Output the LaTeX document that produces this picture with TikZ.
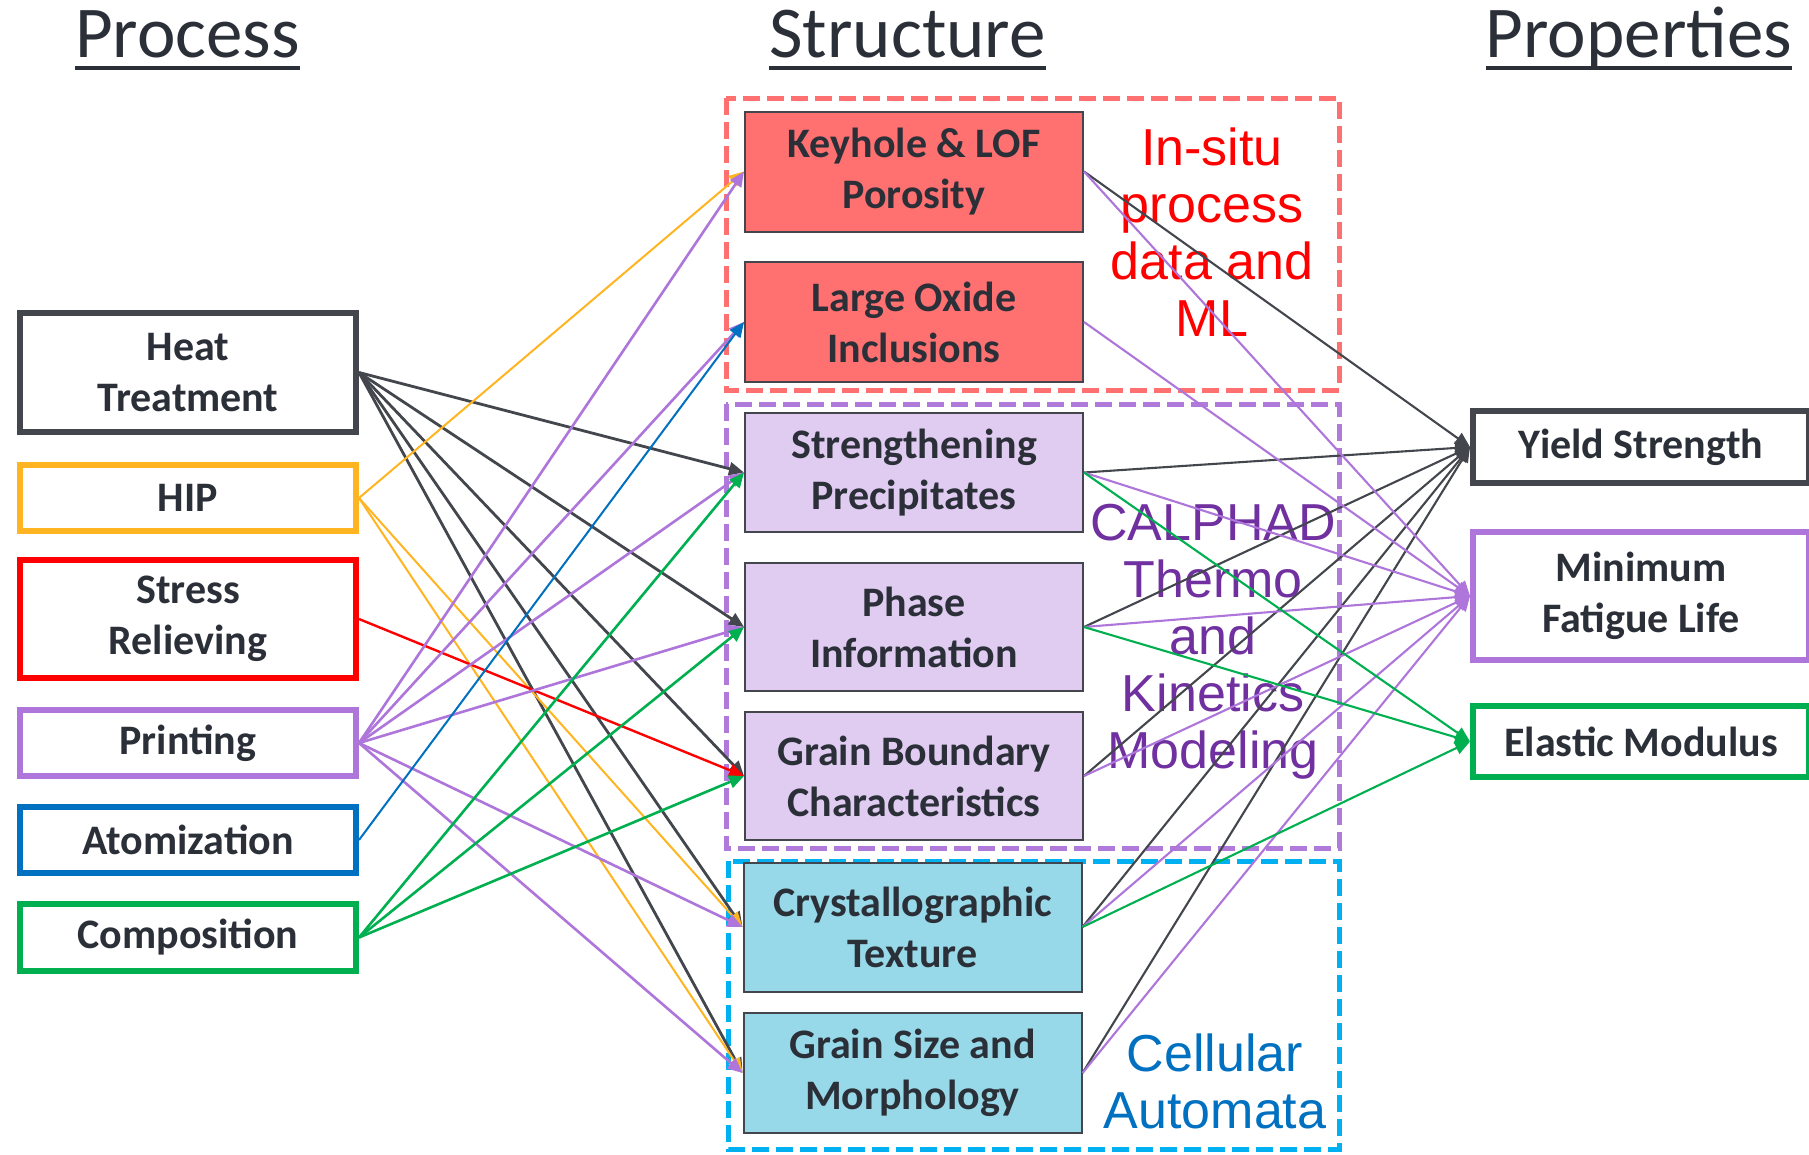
\documentclass[tikz,border=0pt]{standalone}
\usepackage{fontspec}
\setmainfont{Carlito}
\newfontfamily\labfont{Liberation Sans}
\usetikzlibrary{arrows.meta}
\definecolor{dgray}{RGB}{67,71,77}
\definecolor{txt}{RGB}{43,47,56}
\definecolor{hipc}{RGB}{255,181,33}
\definecolor{redc}{RGB}{255,0,0}
\definecolor{purc}{RGB}{174,118,218}
\definecolor{bluc}{RGB}{0,112,192}
\definecolor{grnc}{RGB}{0,176,80}
\definecolor{salmon}{RGB}{255,113,113}
\definecolor{lav}{RGB}{224,203,241}
\definecolor{cyanf}{RGB}{151,217,232}
\definecolor{dashred}{RGB}{255,112,112}
\definecolor{dashpur}{RGB}{176,122,218}
\definecolor{dashcy}{RGB}{0,176,240}
\definecolor{labpur}{RGB}{112,48,160}
\tikzset{
  box/.style={draw, align=center, font=\bfseries\fontsize{42}{51}\selectfont, text=txt, inner sep=0pt},
  lbox/.style={box, line width=6pt, fill=white, minimum width=336pt},
  mbox/.style={box, draw=dgray, line width=2pt, minimum width=338pt},
  rbox/.style={box, line width=6pt, fill=white, minimum width=336pt},
  lk/.style={line width=2.8pt, -{Triangle[length=15pt,width=13pt]}},
  rk/.style={line width=2.1pt, -{Triangle[length=15pt,width=13pt]}},
  ttl/.style={font=\fontsize{73}{80}\selectfont, text=txt, inner sep=0pt, anchor=base},
  lab/.style={font=\labfont\fontsize{52}{57}\selectfont, align=center, inner sep=0pt},
  grp/.style={line width=5pt, dash pattern=on 17pt off 7pt}
}
\begin{document}
\begin{tikzpicture}[x=1pt,y=-1pt]
\useasboundingbox[fill=white] (0,0) rectangle (1809,1154);
% titles
\node[ttl] (tproc) at (187.5,57) {Process};
\node[ttl] (tstr) at (907.5,57) {Structure};
\node[ttl] (tprop) at (1639,57) {Properties};
\foreach \t in {tproc,tstr,tprop}
  \draw[line width=4.5pt, txt] ([yshift=-11pt]\t.base west) -- ([yshift=-11pt]\t.base east);
% group frames
\draw[grp, dashred] (726,98) rectangle (1339,390);
\draw[grp, dashpur] (726,404) rectangle (1339,848);
\draw[grp, dashcy] (728,861) rectangle (1339,1149);
% group labels
\node[lab, text=redc] (lml) at (1212,232) {In-situ\\process\\data and\\ML};
\node[lab, text=labpur] (lcal) at (1213,641.5) {CALPHAD\\Thermo\\and\\Kinetics\\Modeling};
\node[lab, text=bluc] (lca) at (1215,1081.5) {Cellular\\Automata};
% process boxes
\node[lbox, draw=dgray, minimum height=119pt] (heat) at (188,372.5) {Heat\\Treatment};
\node[lbox, draw=hipc, minimum height=66pt] (hip) at (188,498) {HIP};
\node[lbox, draw=redc, minimum height=118pt] (stress) at (188,619) {Stress\\Relieving};
\node[lbox, draw=purc, minimum height=66pt] (print) at (188,743) {Printing};
\node[lbox, draw=bluc, minimum height=66pt] (atom) at (188,840) {Atomization};
\node[lbox, draw=grnc, minimum height=67pt] (comp) at (188,937.5) {Composition};
% structure boxes
\node[mbox, fill=salmon, minimum height=120pt] (key) at (914,171.5) {Keyhole \& LOF\\Porosity};
\node[mbox, fill=salmon, minimum height=120pt] (oxide) at (914,322) {Large Oxide\\Inclusions};
\node[mbox, fill=lav, minimum height=119pt] (streng) at (914,472.5) {Strengthening\\Precipitates};
\node[mbox, fill=lav, minimum height=128pt] (phase) at (914,627) {Phase\\Information};
\node[mbox, fill=lav, minimum height=128pt] (gb) at (914,776) {Grain Boundary\\Characteristics};
\node[mbox, fill=cyanf, minimum height=129pt] (cryst) at (912.5,927) {Crystallographic\\Texture};
\node[mbox, fill=cyanf, minimum height=120pt] (gsize) at (912.5,1073) {Grain Size and\\Morphology};
% property boxes
\node[rbox, draw=dgray, minimum height=72pt] (yield) at (1641,447) {Yield Strength};
\node[rbox, draw=purc, minimum height=128pt] (fat) at (1641,596) {Minimum\\Fatigue Life};
\node[rbox, draw=grnc, minimum height=71pt] (elast) at (1641,741.5) {Elastic Modulus};
% process -> structure
\foreach \b in {streng,phase,gb,cryst,gsize} \draw[lk, dgray] (heat.east) -- (\b.west);
\foreach \b in {key,cryst,gsize} \draw[lk, hipc, line width=2pt] (hip.east) -- (\b.west);
\draw[lk, redc, line width=2.4pt] (stress.east) -- (gb.west);
\foreach \b in {key,oxide,streng,phase,cryst,gsize} \draw[lk, purc, line width=2.6pt] (print.east) -- (\b.west);
\draw[lk, bluc, line width=2pt] (atom.east) -- (oxide.west);
\foreach \b in {streng,phase,gb} \draw[lk, grnc, line width=2.6pt] (comp.east) -- (\b.west);
% structure -> properties
\foreach \a in {key,streng,phase,gb,cryst,gsize} \draw[rk, dgray] (\a.east) -- (yield.west);
\foreach \a in {key,oxide,streng,phase,gb,cryst,gsize} \draw[rk, purc] (\a.east) -- (fat.west);
\foreach \a in {streng,phase,cryst} \draw[rk, grnc] (\a.east) -- (elast.west);
\end{tikzpicture}
\end{document}
